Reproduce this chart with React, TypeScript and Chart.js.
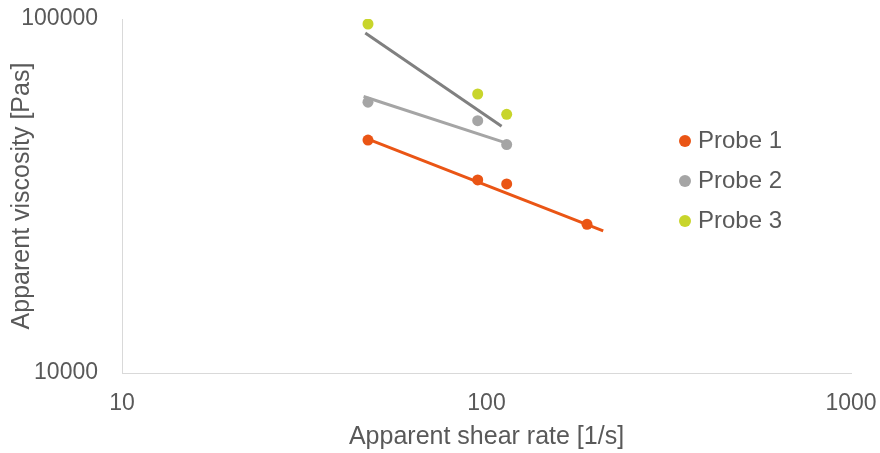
import { useEffect, useRef } from "react";
import { Chart, registerables } from "chart.js";

Chart.register(...registerables);

// Measured points: apparent shear rate [1/s] vs apparent viscosity [Pas]
const probe1Shear = [47.3, 94.6, 113.6, 188.7];
const probe1Visc = [45500, 35100, 34200, 26300];
const probe2Shear = [47.3, 94.6, 113.6];
const probe2Visc = [58200, 51600, 44200];
const probe3Shear = [47.3, 94.6, 113.6];
const probe3Visc = [96800, 61400, 53800];

// Power-law trend lines (start / end)
const trend1Shear = [47.3, 209];
const trend1Visc = [45800, 25200];
const trend2Shear = [46, 113.6];
const trend2Visc = [60400, 44600];
const trend3Shear = [46.5, 110];
const trend3Visc = [91300, 49800];

const xTicks = [10, 100, 1000];
const yTicks = [10000, 100000];
const seriesNames = ["Probe 1", "Probe 2", "Probe 3"];

const ORANGE = "#EA5515";
const GREY = "#A5A5A5";
const DARK_GREY = "#808080";
const LIME = "#C8D52B";
const TEXT = "#595959";
const FONT = "'Liberation Sans', Arial, sans-serif";

const pairs = (xs: number[], ys: number[]) => xs.map((x, i) => ({ x, y: ys[i] }));

const legendPlugin = {
  id: "probeLegend",
  afterDraw(chart: any) {
    const ctx = chart.ctx as CanvasRenderingContext2D;
    const items = chart.data.datasets.filter((d: any) => d.label);
    ctx.save();
    ctx.font = `24px ${FONT}`;
    ctx.textBaseline = "middle";
    ctx.textAlign = "left";
    items.forEach((d: any, i: number) => {
      const y = 141 + i * 40;
      ctx.beginPath();
      ctx.arc(685, y, 6, 0, Math.PI * 2);
      ctx.fillStyle = d.backgroundColor;
      ctx.fill();
      ctx.fillStyle = TEXT;
      ctx.fillText(d.label, 698, y);
    });
    ctx.restore();
  },
};

export default function App() {
  const ref = useRef<HTMLCanvasElement>(null);

  useEffect(() => {
    document.body.style.margin = "0";
    const pointSet = (label: string, xs: number[], ys: number[], color: string) => ({
      type: "scatter" as const,
      label,
      data: pairs(xs, ys),
      backgroundColor: color,
      borderColor: color,
      pointRadius: 5.5,
      pointHoverRadius: 5.5,
      pointBorderWidth: 0,
      showLine: false,
      order: 1,
    });
    const trendSet = (xs: number[], ys: number[], color: string) => ({
      type: "line" as const,
      label: "",
      data: pairs(xs, ys),
      borderColor: color,
      backgroundColor: color,
      borderWidth: 3,
      pointRadius: 0,
      fill: false,
      order: 0,
    });

    const chart = new Chart(ref.current!, {
      type: "scatter",
      data: {
        datasets: [
          pointSet(seriesNames[0], probe1Shear, probe1Visc, ORANGE),
          pointSet(seriesNames[1], probe2Shear, probe2Visc, GREY),
          pointSet(seriesNames[2], probe3Shear, probe3Visc, LIME),
          trendSet(trend1Shear, trend1Visc, ORANGE),
          trendSet(trend2Shear, trend2Visc, GREY),
          trendSet(trend3Shear, trend3Visc, DARK_GREY),
        ] as any,
      },
      options: {
        animation: false,
        responsive: false,
        layout: { padding: { top: 19, right: 29, left: 0, bottom: 0 } },
        plugins: {
          legend: { display: false },
          tooltip: { enabled: false },
        },
        scales: {
          x: {
            type: "logarithmic",
            min: 10,
            max: 1000,
            afterBuildTicks: (s: any) => {
              s.ticks = xTicks.map((value) => ({ value }));
            },
            afterFit: (s: any) => {
              s.height = 80;
              s.paddingLeft = 0;
              s.paddingRight = 0;
            },
            grid: { display: false, drawTicks: false },
            border: { display: true, color: "#D9D9D9", width: 1 },
            ticks: {
              autoSkip: false,
              maxRotation: 0,
              padding: 17,
              color: TEXT,
              font: { family: FONT, size: 23 },
              callback: (v: any) => String(v),
            },
            title: {
              display: true,
              text: "Apparent shear rate [1/s]",
              color: TEXT,
              font: { family: FONT, size: 25 },
              padding: { top: 0, bottom: 1 },
            },
          },
          y: {
            type: "logarithmic",
            min: 10000,
            max: 100000,
            afterBuildTicks: (s: any) => {
              s.ticks = yTicks.map((value) => ({ value }));
            },
            afterFit: (s: any) => {
              s.width = 122;
              s.paddingTop = 0;
              s.paddingBottom = 0;
            },
            grid: { display: false, drawTicks: false },
            border: { display: true, color: "#D9D9D9", width: 1 },
            ticks: {
              autoSkip: false,
              padding: 24,
              color: TEXT,
              font: { family: FONT, size: 23 },
              callback: (v: any) => String(v),
            },
            title: {
              display: true,
              text: "Apparent viscosity [Pas]",
              color: TEXT,
              font: { family: FONT, size: 25 },
              padding: { top: 7, bottom: 0 },
            },
          },
        },
      },
      plugins: [legendPlugin],
    });
    return () => chart.destroy();
  }, []);

  return (
    <div style={{ width: 880, height: 453 }}>
      <canvas ref={ref} width={880} height={453} style={{ display: "block" }} />
    </div>
  );
}
